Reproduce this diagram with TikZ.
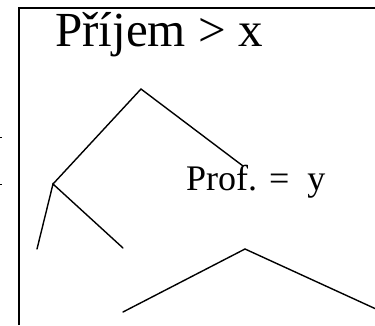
\documentclass[tikz,border=0pt]{standalone}
\usepackage{fontspec}
\setmainfont{Liberation Serif}
\begin{document}
\begin{tikzpicture}[x=1pt,y=1pt,
  branch/.style={line width=1.4pt, line cap=round},
  frame/.style={line width=2pt},
  tick/.style={line width=1pt},
  lbl/.style={inner sep=0pt, anchor=base west}]
\useasboundingbox (0,0) rectangle (375,325);
% frame
\coordinate (fTL) at (19,317);
\coordinate (fTR) at (375,317);
\coordinate (fBL) at (19,0);
\draw[frame] (fBL) -- (fTL) -- (fTR);
% ticks
\coordinate (t1a) at (0,188); \coordinate (t1b) at (2,188);
\coordinate (t2a) at (0,141); \coordinate (t2b) at (2,141);
\draw[tick] (t1a) -- (t1b);
\draw[tick] (t2a) -- (t2b);
% texts
\node[lbl, font=\fontsize{49}{54}\selectfont] (title) at (55,279) {Příjem > x};
\node[lbl, font=\fontsize{36}{40}\selectfont] (prof) at (186,135) {Prof. =\ \ y};
% upper tree
\coordinate (apex) at (141,236);
\coordinate (mid) at (53,141);
\coordinate (rend) at (243,159);
\coordinate (ll) at (37,76);
\coordinate (lr) at (123,77);
\draw[branch] (mid) -- (apex) -- (rend);
\draw[branch] (ll) -- (mid) -- (lr);
% lower tent
\coordinate (bl) at (123,13);
\coordinate (bapex) at (245,76);
\coordinate (br) at (376,16);
\draw[branch] (bl) -- (bapex) -- (br);
\end{tikzpicture}
\end{document}
